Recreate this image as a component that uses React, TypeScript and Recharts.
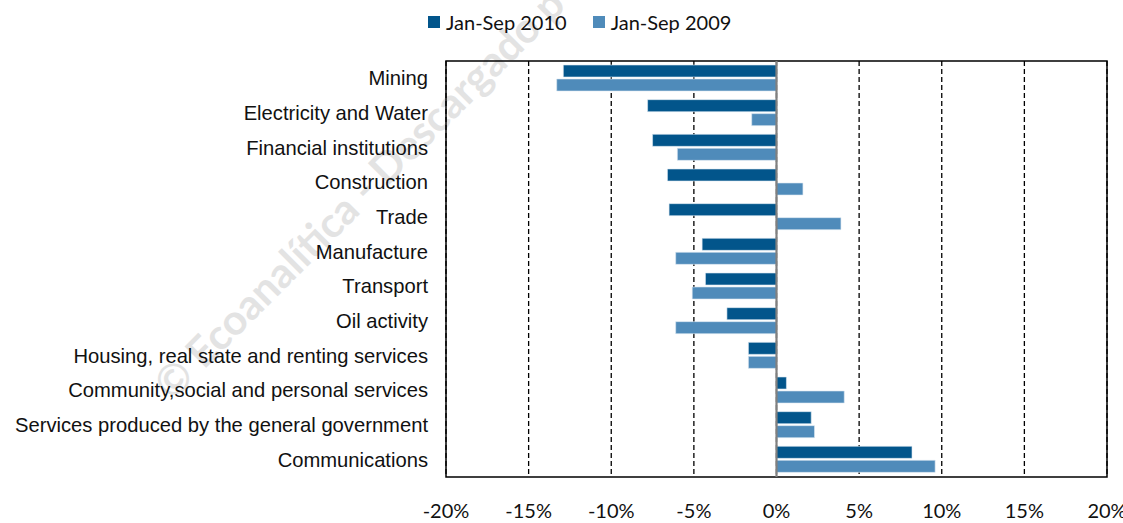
import React from 'react';
import {
  BarChart,
  Bar,
  XAxis,
  YAxis,
  CartesianGrid,
  ReferenceLine,
  ReferenceArea,
} from 'recharts';

const categories = [
  'Mining',
  'Electricity and Water',
  'Financial institutions',
  'Construction',
  'Trade',
  'Manufacture',
  'Transport',
  'Oil activity',
  'Housing, real state and renting services',
  'Community,social and personal services',
  'Services produced by the general government',
  'Communications',
];

const growth2010 = [-12.9, -7.8, -7.5, -6.6, -6.5, -4.5, -4.3, -3.0, -1.7, 0.6, 2.1, 8.2];
const growth2009 = [-13.3, -1.5, -6.0, 1.6, 3.9, -6.1, -5.1, -6.1, -1.7, 4.1, 2.3, 9.6];

const xTicks = [-20, -15, -10, -5, 0, 5, 10, 15, 20];

const seriesNames = ['Jan-Sep 2010', 'Jan-Sep 2009'];
const DARK = '#02558B';
const LIGHT = '#4F8BBA';

const data = categories.map((name, i) => ({
  name,
  y2010: growth2010[i],
  y2009: growth2009[i],
}));

const CategoryTick = ({ x, y, payload }: any) => (
  <text
    x={x - 10}
    y={y}
    textAnchor="end"
    dominantBaseline="central"
    fontFamily="'Liberation Sans', Arial, sans-serif"
    fontSize={20.2}
    fill="#111"
  >
    {payload.value}
  </text>
);

const PercentTick = ({ x, y, payload }: any) => (
  <text
    x={x}
    y={y + 33}
    textAnchor="middle"
    fontFamily="Lato, sans-serif"
    fontSize={20}
    fill="#111"
  >
    {payload.value}%
  </text>
);

// legend drawn as plain html above the plot
const TopLegend = () => (
  <div
    style={{
      position: 'absolute',
      left: 428,
      top: 10,
      display: 'flex',
      fontFamily: 'Lato, sans-serif',
      fontSize: 20,
      color: '#111',
    }}
  >
    {seriesNames.map((n, i) => (
      <div key={n} style={{ display: 'flex', alignItems: 'center', marginRight: 26 }}>
        <span
          style={{
            display: 'inline-block',
            width: 12,
            height: 12,
            background: i === 0 ? DARK : LIGHT,
            marginRight: 6,
          }}
        />
        <span>{n}</span>
      </div>
    ))}
  </div>
);

export default function App() {
  return (
    <div style={{ position: 'absolute', left: 0, top: 0, width: 1123, height: 523, background: '#fff', overflow: 'hidden' }}>
      {/* watermark */}
      <svg width={1123} height={523} style={{ position: 'absolute', left: 0, top: 0 }}>
        <text
          x={172}
          y={402}
          transform="rotate(-45 172 402)"
          fontFamily="Lato, sans-serif"
          fontWeight="bold"
          fontSize={42}
          fill="#e3e3e3"
        >
          © Ecoanalítica - Descargado p
        </text>
      </svg>
      <div style={{ position: 'absolute', left: 0, top: 0 }}>
        <BarChart
          width={1123}
          height={523}
          data={data}
          layout="vertical"
          margin={{ top: 61, right: 16, bottom: 0, left: 0 }}
          barSize={12}
          barGap={2}
        >
          <CartesianGrid
            horizontal={false}
            stroke="#000"
            strokeWidth={1.3}
            strokeDasharray="5 3"
          />
          <XAxis
            type="number"
            domain={[-20, 20]}
            ticks={xTicks}
            axisLine={false}
            tickLine={false}
            tick={<PercentTick />}
            height={46}
            interval={0}
          />
          <YAxis
            type="category"
            dataKey="name"
            width={446}
            axisLine={false}
            tickLine={false}
            tick={<CategoryTick />}
            interval={0}
          />
          <ReferenceArea x1={-20} x2={20} fill="none" stroke="#000" strokeWidth={1.5} />
          <Bar dataKey="y2010" name={seriesNames[0]} fill={DARK} stroke="#dbe7f1" strokeWidth={0.6} isAnimationActive={false} />
          <Bar dataKey="y2009" name={seriesNames[1]} fill={LIGHT} stroke="#dbe7f1" strokeWidth={0.6} isAnimationActive={false} />
          <ReferenceLine x={0} stroke="#808080" strokeWidth={2.2} />
        </BarChart>
      </div>
      <TopLegend />
    </div>
  );
}
